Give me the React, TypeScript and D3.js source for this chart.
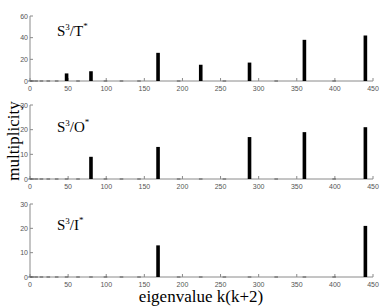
import React from 'react';
import * as d3 from 'd3';

// eigenvalues k(k+2), k = 0..20
const eigenvalues = [0, 3, 8, 15, 24, 35, 48, 63, 80, 99, 120, 143, 168, 195, 224, 255, 288, 323, 360, 399, 440];

const multT = [0, 0, 0, 0, 0, 0, 7, 0, 9, 0, 0, 0, 26, 0, 15, 0, 17, 0, 38, 0, 42];
const multO = [0, 0, 0, 0, 0, 0, 0, 0, 9, 0, 0, 0, 13, 0, 0, 0, 17, 0, 19, 0, 21];
const multI = [0, 0, 0, 0, 0, 0, 0, 0, 0, 0, 0, 0, 13, 0, 0, 0, 0, 0, 0, 0, 21];

const xTicks = [0, 50, 100, 150, 200, 250, 300, 350, 400, 450];
const yTicksTop = [0, 20, 40, 60];
const yTicksLow = [0, 10, 20, 30];

const panels = [
  { name: 'T', values: multT, yMax: 60, yTicks: yTicksTop, y0: 81, y1: 16, labelY: 36 },
  { name: 'O', values: multO, yMax: 30, yTicks: yTicksLow, y0: 179, y1: 105, labelY: 132 },
  { name: 'I', values: multI, yMax: 30, yTicks: yTicksLow, y0: 277, y1: 204, labelY: 230 },
];

const W = 382;
const H = 306;
const axisColor = '#8a8a8a';
const tickFont = 'Liberation Sans, Arial, sans-serif';
const serif = 'Liberation Serif, Times New Roman, serif';

const x = d3.scaleLinear().domain([0, 450]).range([30, 373]);

function Panel({ p }: { p: typeof panels[number] }) {
  const y = d3.scaleLinear().domain([0, p.yMax]).range([p.y0, p.y1]);
  const bw = 3.6;
  return (
    <g>
      {/* axes */}
      <line x1={x(0)} x2={x(450)} y1={y(0)} y2={y(0)} stroke={axisColor} strokeWidth={1} />
      <line x1={x(0)} x2={x(0)} y1={y(0)} y2={y(p.yMax)} stroke={axisColor} strokeWidth={1} />
      {xTicks.map((t) => (
        <g key={'x' + t}>
          <line x1={x(t)} x2={x(t)} y1={y(0)} y2={y(0) - 3} stroke={axisColor} />
          <text x={x(t)} y={y(0) + 10} fontSize={7} fontFamily={tickFont} fill="#555" textAnchor="middle">
            {t}
          </text>
        </g>
      ))}
      {p.yTicks.map((t) => (
        <g key={'y' + t}>
          <line x1={x(0)} x2={x(0) + 3} y1={y(t)} y2={y(t)} stroke={axisColor} />
          <text x={x(0) - 2} y={y(t) + 2.5} fontSize={7} fontFamily={tickFont} fill="#555" textAnchor="end">
            {t}
          </text>
        </g>
      ))}
      {/* bars */}
      {eigenvalues.map((e, i) => {
        const v = p.values[i];
        if (v === 0) {
          return <rect key={e} x={x(e) - bw / 2} y={y(0) - 0.5} width={bw} height={1} fill="#555" />;
        }
        return <rect key={e} x={x(e) - bw / 2} y={y(v)} width={bw} height={y(0) - y(v)} fill="#000" />;
      })}
      {/* group label */}
      <text x={57} y={p.labelY} fontFamily={serif} fontSize={15} fill="#000">
        S
        <tspan fontSize={9} dy={-6}>3</tspan>
        <tspan dy={6}>/{p.name}</tspan>
        <tspan fontSize={9} dy={-7}>*</tspan>
      </text>
    </g>
  );
}

export default function App() {
  return (
    <svg width={W} height={H} style={{ position: 'absolute', left: 0, top: 0, background: '#fff' }}>
      <rect width={W} height={H} fill="#fff" />
      {panels.map((p) => (
        <Panel key={p.name} p={p} />
      ))}
      <text
        transform="translate(19,141) rotate(-90)"
        textAnchor="middle"
        fontFamily={serif}
        fontSize={17}
        fill="#000"
      >
        multiplicity
      </text>
      <text x={201} y={302} textAnchor="middle" fontFamily={serif} fontSize={17} fill="#000">
        eigenvalue k(k+2)
      </text>
    </svg>
  );
}
